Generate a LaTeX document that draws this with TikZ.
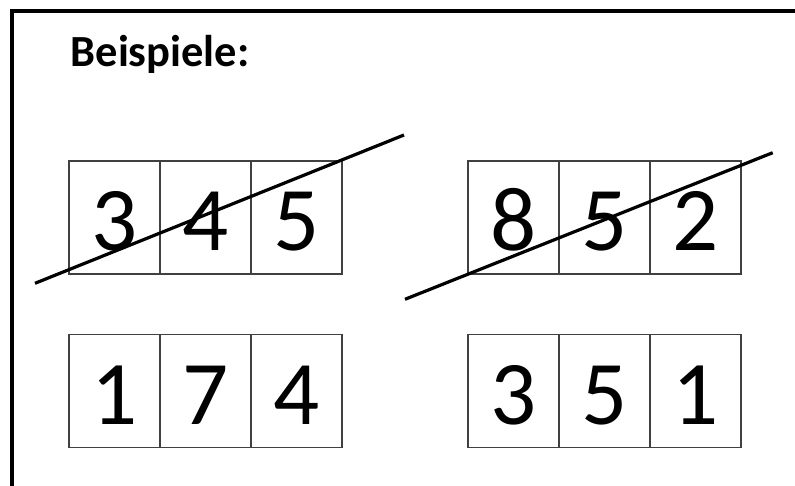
\documentclass[tikz,border=0pt]{standalone}
\usepackage{fontspec}
\setmainfont{Carlito}
\begin{document}
\begin{tikzpicture}[x=1pt,y=-1pt,
  cell/.style={draw=black!75,line width=1.3pt,minimum width=91pt,minimum height=113pt,
    inner sep=0pt,text height=66pt,text depth=0pt,font=\fontsize{91}{100}\selectfont},
  strike/.style={line width=3.2pt,black},
  frame/.style={line width=4pt,black}]
\useasboundingbox (0,0) rectangle (795,486);
\draw[frame] (12,500) -- (12,11.5) -- (810,11.5);
\node[anchor=base west,inner sep=0pt,font=\fontsize{44.5}{50}\selectfont\bfseries] (title) at (70.5,66.7) {Beispiele:};
% row 1 left
\node[cell] (a1) at (114.5,217.5) {3};
\node[cell] (a2) at (205.5,217.5) {4};
\node[cell] (a3) at (296.5,217.5) {5};
% row 1 right
\node[cell] (b1) at (513.5,217.5) {8};
\node[cell] (b2) at (604.5,217.5) {5};
\node[cell] (b3) at (695.5,217.5) {2};
% row 2 left
\node[cell] (c1) at (114.5,391.2) {1};
\node[cell] (c2) at (205.5,391.2) {7};
\node[cell] (c3) at (296.5,391.2) {4};
% row 2 right
\node[cell] (d1) at (513.5,391.2) {3};
\node[cell] (d2) at (604.5,391.2) {5};
\node[cell] (d3) at (695.5,391.2) {1};
% strike-through lines
\coordinate (s1a) at (35,283.3);
\coordinate (s1b) at (404,135);
\coordinate (s2a) at (405,299.3);
\coordinate (s2b) at (772.7,152.7);
\draw[strike] (s1a) -- (s1b);
\draw[strike] (s2a) -- (s2b);
\end{tikzpicture}
\end{document}
